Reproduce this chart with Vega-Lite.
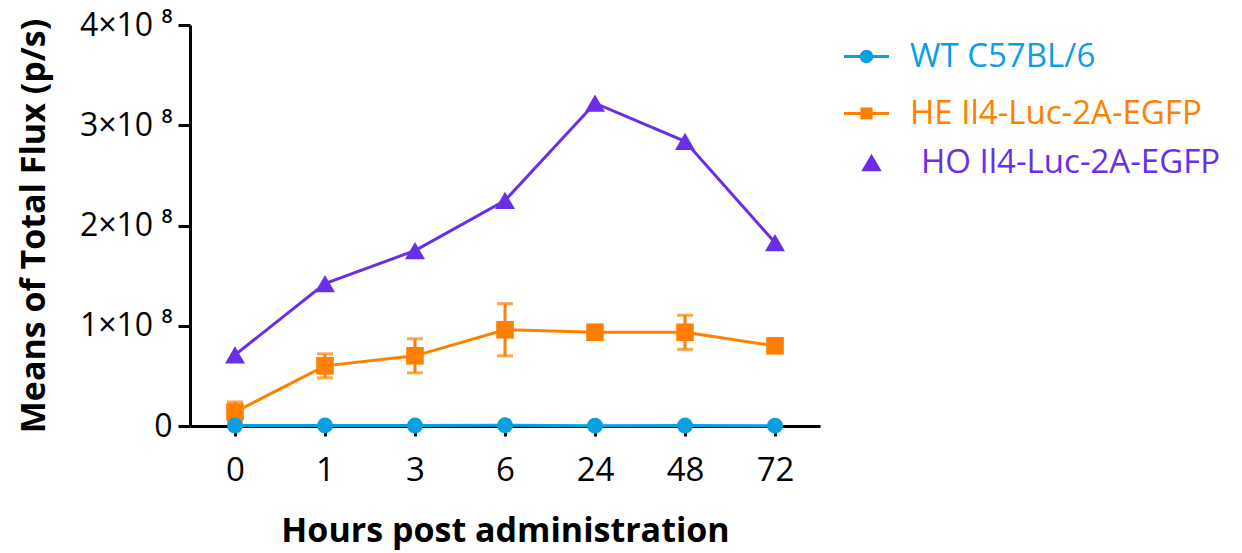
{
  "$schema": "https://vega.github.io/schema/vega-lite/v6.json",
  "width": 630,
  "height": 401,
  "autosize": {"type": "none"},
  "padding": {"left": 190, "top": 25, "right": 422, "bottom": 127},
  "background": "white",
  "config": {
    "view": {"stroke": null},
    "font": "Open Sans",
    "axis": {
      "domainColor": "black", "domainWidth": 3, "tickColor": "black", "tickWidth": 3,
      "grid": false, "labelColor": "black", "titleColor": "black",
      "labelFont": "Open Sans", "titleFont": "Open Sans", "labelFontSize": 33,
      "titleFontSize": 34, "titleFontWeight": "bold"
    },
    "legend": {
      "title": null, "orient": "none", "legendX": 653, "symbolSize": 2025,
      "labelFontSize": 33, "labelFont": "Open Sans", "labelOffset": 20, "labelLimit": 500,
      "symbolOpacity": 1
    }
  },
  "data": {
    "values": [
      {"hours": "0", "group": "HO Il4-Luc-2A-EGFP", "mean": 71000000, "sd": 0},
      {"hours": "1", "group": "HO Il4-Luc-2A-EGFP", "mean": 142000000, "sd": 0},
      {"hours": "3", "group": "HO Il4-Luc-2A-EGFP", "mean": 175000000, "sd": 0},
      {"hours": "6", "group": "HO Il4-Luc-2A-EGFP", "mean": 225000000, "sd": 0},
      {"hours": "24", "group": "HO Il4-Luc-2A-EGFP", "mean": 322000000, "sd": 0},
      {"hours": "48", "group": "HO Il4-Luc-2A-EGFP", "mean": 284000000, "sd": 0},
      {"hours": "72", "group": "HO Il4-Luc-2A-EGFP", "mean": 183000000, "sd": 0},
      {"hours": "0", "group": "HE Il4-Luc-2A-EGFP", "mean": 14000000, "sd": 10000000},
      {"hours": "1", "group": "HE Il4-Luc-2A-EGFP", "mean": 60000000, "sd": 12000000},
      {"hours": "3", "group": "HE Il4-Luc-2A-EGFP", "mean": 70000000, "sd": 17000000},
      {"hours": "6", "group": "HE Il4-Luc-2A-EGFP", "mean": 96000000, "sd": 26000000},
      {"hours": "24", "group": "HE Il4-Luc-2A-EGFP", "mean": 93500000, "sd": 7000000},
      {"hours": "48", "group": "HE Il4-Luc-2A-EGFP", "mean": 93500000, "sd": 17000000},
      {"hours": "72", "group": "HE Il4-Luc-2A-EGFP", "mean": 80000000, "sd": 3000000},
      {"hours": "0", "group": "WT C57BL/6", "mean": 500000, "sd": 0},
      {"hours": "1", "group": "WT C57BL/6", "mean": 600000, "sd": 0},
      {"hours": "3", "group": "WT C57BL/6", "mean": 400000, "sd": 0},
      {"hours": "6", "group": "WT C57BL/6", "mean": 700000, "sd": 0},
      {"hours": "24", "group": "WT C57BL/6", "mean": 300000, "sd": 0},
      {"hours": "48", "group": "WT C57BL/6", "mean": 400000, "sd": 0},
      {"hours": "72", "group": "WT C57BL/6", "mean": 300000, "sd": 0}
    ]
  },
  "encoding": {
    "x": {
      "field": "hours", "type": "ordinal",
      "sort": ["0", "1", "3", "6", "24", "48", "72"],
      "scale": {"type": "point", "padding": 0.5},
      "axis": {"title": "Hours post administration", "labelAngle": 0, "tickSize": 10, "labelPadding": 18, "titlePadding": 27}
    },
    "y": {
      "field": "mean", "type": "quantitative",
      "scale": {"domain": [0, 400000000], "nice": false},
      "axis": {
        "title": "Means of Total Flux (p/s)",
        "values": [0, 100000000, 200000000, 300000000, 400000000],
        "labelExpr": "datum.value == 0 ? '0' : format(datum.value / 100000000, 'd') + '×10 ⁸'",
        "labelFontSize": 32,
        "tickSize": 12, "labelPadding": 6, "titlePadding": 28
      }
    }
  },
  "resolve": {
    "scale": {"color": "independent", "shape": "independent"},
    "legend": {"color": "independent"}
  },
  "layer": [
    {
      "mark": {"type": "line", "strokeWidth": 3},
      "encoding": {
        "color": {
          "field": "group", "type": "nominal",
          "scale": {"domain": ["WT C57BL/6", "HE Il4-Luc-2A-EGFP", "HO Il4-Luc-2A-EGFP"], "range": ["#0aa0e0", "#ff8000", "#6a2ee8"]},
          "legend": null
        }
      }
    },
    {
      "transform": [{"filter": "datum.sd > 0"}],
      "mark": {"type": "errorbar", "thickness": 3, "ticks": {"size": 16, "thickness": 3}},
      "encoding": {
        "y": {"field": "mean", "type": "quantitative"},
        "yError": {"field": "sd"},
        "color": {"value": "#ff8000"}
      }
    },
    {
      "transform": [{"filter": "datum.group === 'HO Il4-Luc-2A-EGFP'"}],
      "mark": {"type": "point", "filled": true, "opacity": 1, "size": 400},
      "encoding": {
        "color": {
          "field": "group", "type": "nominal",
          "scale": {"domain": ["HO Il4-Luc-2A-EGFP"], "range": ["#6a2ee8"]},
          "legend": {
            "legendY": 121, "legendX": 665, "labelOffset": 33, "symbolSize": 420, "labelColor": "#6a2ee8",
            "symbolType": "triangle-up"
          }
        },
        "shape": {"field": "group", "type": "nominal", "scale": {"domain": ["HO Il4-Luc-2A-EGFP"], "range": ["triangle-up"]}, "legend": null}
      }
    },
    {
      "transform": [{"filter": "datum.group === 'HE Il4-Luc-2A-EGFP'"}],
      "mark": {"type": "square", "filled": true, "opacity": 1, "size": 310},
      "encoding": {
        "color": {
          "field": "group", "type": "nominal",
          "scale": {"domain": ["HE Il4-Luc-2A-EGFP"], "range": ["#ff8000"]},
          "legend": {
            "legendY": 65, "labelColor": "#ff8000",
            "symbolType": "M-1,-0.067H1V0.067H-1ZM-0.27,-0.27H0.27V0.27H-0.27Z"
          }
        }
      }
    },
    {
      "transform": [{"filter": "datum.group === 'WT C57BL/6'"}],
      "mark": {"type": "circle", "filled": true, "opacity": 1, "size": 256},
      "encoding": {
        "color": {
          "field": "group", "type": "nominal",
          "scale": {"domain": ["WT C57BL/6"], "range": ["#0aa0e0"]},
          "legend": {
            "legendY": 8, "labelColor": "#0aa0e0",
            "symbolType": "M-1,-0.067H1V0.067H-1ZM0.3,0A0.3,0.3 0 1,1 -0.3,0A0.3,0.3 0 1,1 0.3,0Z"
          }
        }
      }
    }
  ]
}
